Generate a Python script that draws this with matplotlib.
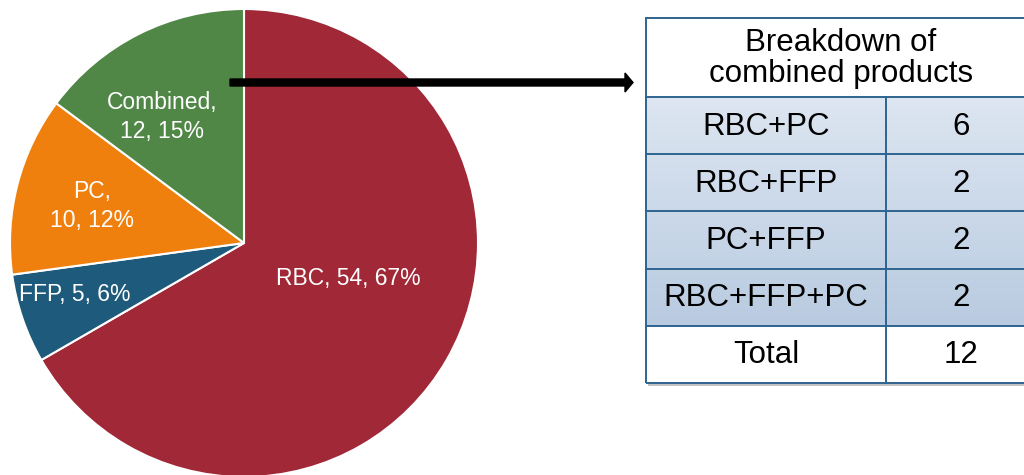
import matplotlib
matplotlib.use("Agg")
import matplotlib.pyplot as plt
import numpy as np
from matplotlib.patches import Rectangle

plt.rcParams['font.family'] = ['Liberation Sans', 'DejaVu Sans']

# ---- data ----
pie_labels = ["RBC", "FFP", "PC", "Combined"]
pie_values = [54, 5, 10, 12]
pie_colors = ["#A02837", "#1E5A7B", "#F0800E", "#508746"]

table_header = "Breakdown of\ncombined products"
table_items = ["RBC+PC", "RBC+FFP", "PC+FFP", "RBC+FFP+PC"]
table_counts = [6, 2, 2, 2]
total_label = "Total"

W, H = 1024, 475
fig = plt.figure(figsize=(W / 100, H / 100), dpi=100)
ax = fig.add_axes([0, 0, 1, 1])

def Y(y):
    return H - y

# ---- pie ----
cx, cy, R = 244, Y(243), 234
wedges, _ = ax.pie(pie_values, colors=pie_colors, startangle=90, counterclock=False,
                   center=(cx, cy), radius=R,
                   wedgeprops=dict(edgecolor="white", linewidth=1.5))
total = sum(pie_values)
pct = [round(v / total * 100) for v in pie_values]

label_pos = {"RBC": (348, 279), "FFP": (75, 294), "PC": (92, 206), "Combined": (162, 117)}
two_line = {"PC", "Combined"}
for lab, v, p in zip(pie_labels, pie_values, pct):
    if lab in two_line:
        s = f"{lab},\n{v}, {p}%"
    else:
        s = f"{lab}, {v}, {p}%"
    x, y = label_pos[lab]
    ax.text(x, Y(y), s, color="white", fontsize=16.5, ha="center", va="center",
            linespacing=1.28, zorder=5)

# ---- arrow ----
ax.arrow(230, Y(82.5), 403, 0, width=7, head_width=19, head_length=8,
         length_includes_head=True, color="black", zorder=6)

# ---- table ----
tx0, tx1, tdiv = 646, 1036, 886
ty_top, ty_head = 18, 97
row_h = 57.2
n = len(table_items)
row_tops = [ty_head + i * row_h for i in range(n + 1)]
ty_bot = ty_head + (n + 1) * row_h
border = "#2E6490"

# shadow
ax.add_patch(Rectangle((tx0 + 2, Y(ty_bot) - 3), tx1 - tx0, ty_bot - ty_top,
                       facecolor="#A8A8A8", edgecolor="none", alpha=0.7, zorder=1))
# white base
ax.add_patch(Rectangle((tx0, Y(ty_bot)), tx1 - tx0, ty_bot - ty_top,
                       facecolor="white", edgecolor="none", zorder=2))
# gradient for item rows
grad = np.linspace(0, 1, 256).reshape(-1, 1)
c_top = np.array([0xDD, 0xE6, 0xF1]) / 255
c_bot = np.array([0xB9, 0xCB, 0xE1]) / 255
img = c_top[None, None, :] * (1 - grad[:, :, None]) + c_bot[None, None, :] * grad[:, :, None]
ax.imshow(img, extent=(tx0, tx1, Y(row_tops[n]), Y(ty_head)), aspect="auto",
          origin="upper", zorder=2.5, interpolation="bilinear")

lw = 1.4
ax.add_patch(Rectangle((tx0, Y(ty_bot)), tx1 - tx0, ty_bot - ty_top,
                       facecolor="none", edgecolor=border, linewidth=lw, zorder=4))
for yl in [ty_head] + row_tops[1:]:
    ax.plot([tx0, tx1], [Y(yl), Y(yl)], color=border, linewidth=lw, zorder=4)
ax.plot([tdiv, tdiv], [Y(ty_head), Y(ty_bot)], color=border, linewidth=lw, zorder=4)

fs = 22.5
ax.text((tx0 + tx1) / 2, Y((ty_top + ty_head) / 2 + 1), table_header, fontsize=fs,
        ha="center", va="center", linespacing=1.08, zorder=5)
rows = list(zip(table_items, table_counts)) + [(total_label, sum(table_counts))]
for i, (name, cnt) in enumerate(rows):
    yc = ty_head + (i + 0.5) * row_h + 1
    ax.text((tx0 + tdiv) / 2, Y(yc), name, fontsize=fs, ha="center", va="center", zorder=5)
    ax.text((tdiv + tx1) / 2, Y(yc), str(cnt), fontsize=fs, ha="center", va="center", zorder=5)

ax.set_xlim(0, W)
ax.set_ylim(0, H)
ax.set_aspect("auto")
ax.axis("off")
fig.savefig("out.png", dpi=100)
